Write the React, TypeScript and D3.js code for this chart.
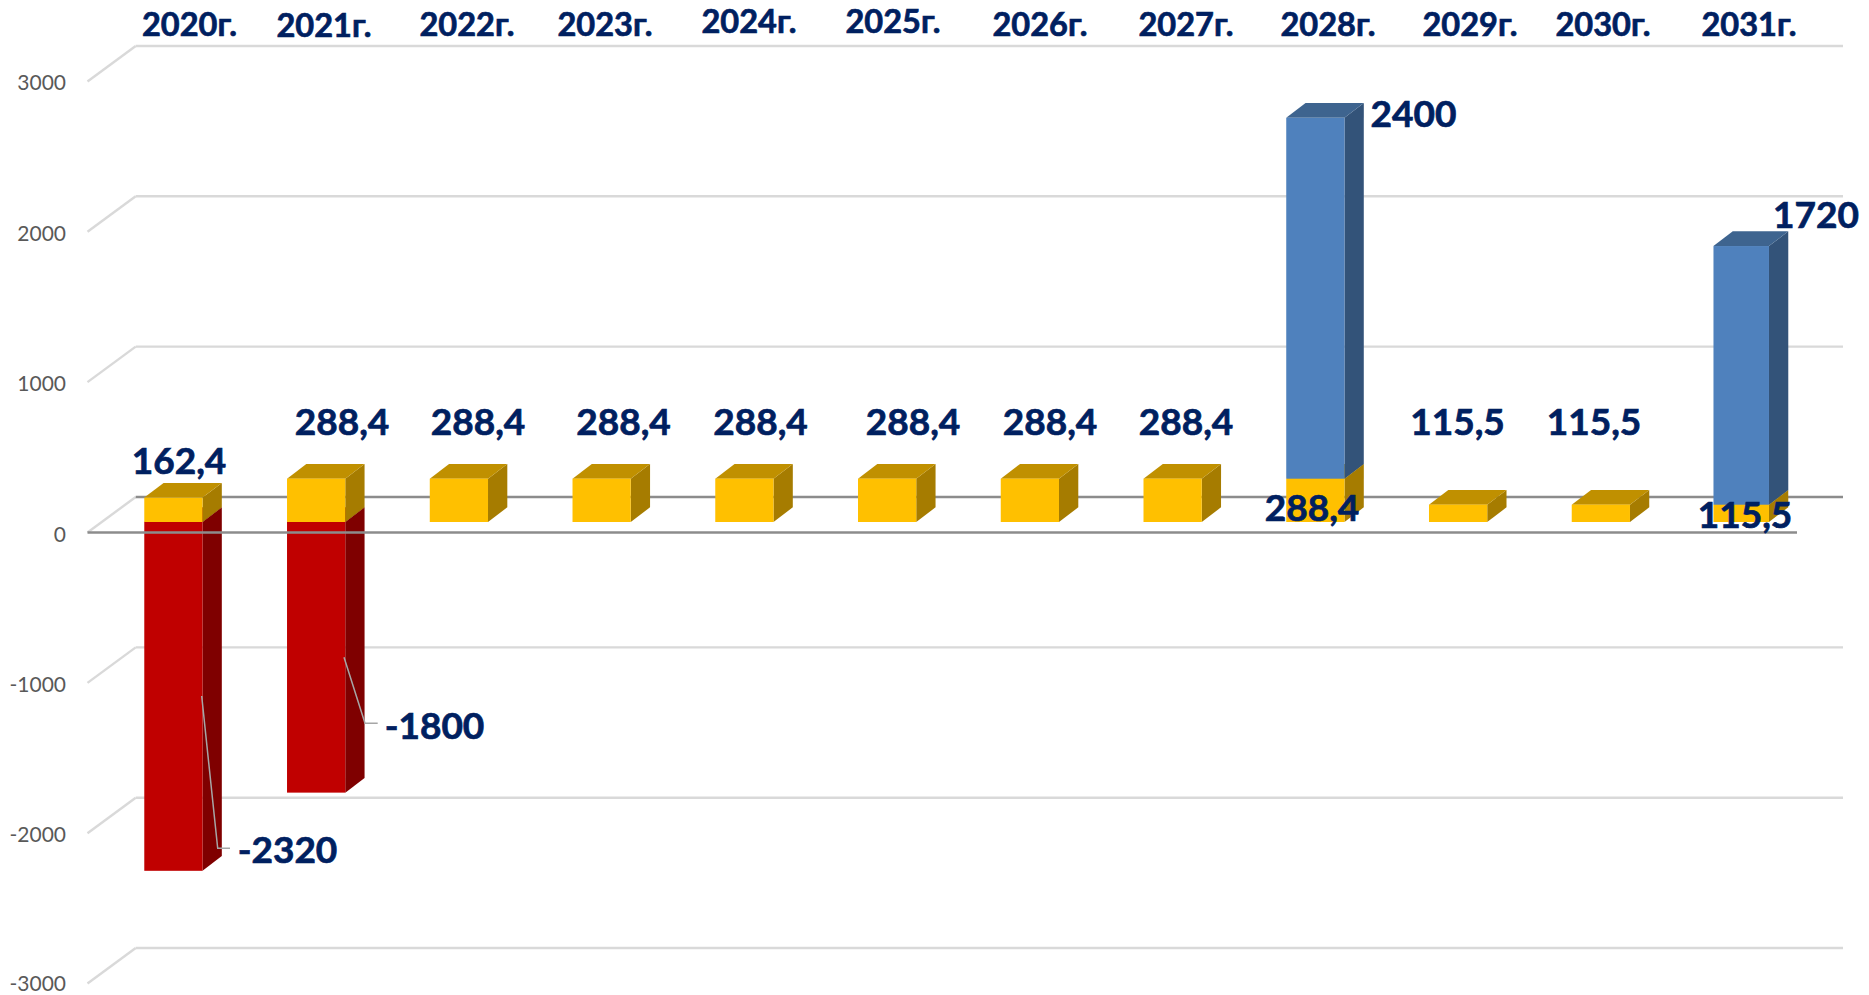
import React from "react";
import * as d3 from "d3";

const years = ["2020г.", "2021г.", "2022г.", "2023г.", "2024г.", "2025г.", "2026г.", "2027г.", "2028г.", "2029г.", "2030г.", "2031г."];
const yellowValues = [162.4, 288.4, 288.4, 288.4, 288.4, 288.4, 288.4, 288.4, 288.4, 115.5, 115.5, 115.5];
const redValues = [-2320, -1800, 0, 0, 0, 0, 0, 0, 0, 0, 0, 0];
const blueValues = [0, 0, 0, 0, 0, 0, 0, 0, 2400, 0, 0, 1720];
const yellowLabels = ["162,4", "288,4", "288,4", "288,4", "288,4", "288,4", "288,4", "288,4", "288,4", "115,5", "115,5", "115,5"];
const ticks = [3000, 2000, 1000, 0, -1000, -2000, -3000];

// label placement (text anchor middle), independent of the data
const yearLabelPos: [number, number][] = [[189.5, 36], [324, 37], [467, 36], [605, 36], [749, 33], [893, 33], [1040, 36], [1186, 36], [1328, 36], [1470, 36], [1603, 36], [1749, 36]];
const yellowLabelPos: [number, number][] = [[179, 474], [342, 435], [478, 435], [623.5, 435], [760.5, 435], [913, 435], [1050, 435], [1186, 435], [1312, 521], [1457.5, 435], [1594, 435], [1745, 527.5]];

const FONT = "Lato, 'Open Sans', sans-serif";
const NAVY = "#002060";
const DX = 19.3;
const DY = 14.7;
const STEP = 142.65;

const x = d3.scaleBand<string>().domain(years).range([102.6, 102.6 + 12 * STEP]).paddingInner(0.592).paddingOuter(0.292);
const unit = 150.35;
const yBar = d3.scaleLinear().domain([-1000, 1000]).range([522 + unit, 522 - unit]);
const yBack = d3.scaleLinear().domain([-1000, 1000]).range([497 + unit, 497 - unit]);
const yFront = d3.scaleLinear().domain([-1000, 1000]).range([532.5 + unit, 532.5 - unit]);

const line = d3.line();

function Box({ i, v0, v1, front, top, side }: { i: number; v0: number; v1: number; front: string; top: string; side: string }) {
  const xl = x(years[i])! - (i === 11 ? 1 : 0);
  const w = i === 11 ? 55.5 : x.bandwidth();
  const xr = xl + w;
  const yt = yBar(Math.max(v0, v1));
  const yb = yBar(Math.min(v0, v1));
  return (
    <g>
      <path d={line([[xr, yt], [xr + DX, yt - DY], [xr + DX, yb - DY], [xr, yb]])! + "Z"} fill={side} />
      <path d={line([[xl, yt], [xl + DX, yt - DY], [xr + DX, yt - DY], [xr, yt]])! + "Z"} fill={top} />
      <rect x={xl} y={yt} width={w} height={yb - yt} fill={front} />
    </g>
  );
}

export default function App() {
  return (
    <svg width={1869} height={995} style={{ position: "absolute", left: 0, top: 0, display: "block", background: "#fff" }} fontFamily={FONT}>
      {ticks.map((t) => (
        <g key={t} fill="none" stroke={t === 0 ? "#8c8c8c" : "#d9d9d9"} strokeWidth={2.4}>
          <path d={line([[87.5, yFront(t)], [135.7, yBack(t)]])!} stroke="#d9d9d9" />
          <path d={line([[135.7, yBack(t)], [1843, yBack(t)]])!} />
        </g>
      ))}
      {ticks.map((t) => (
        <text key={t} x={66} y={yFront(t) + (t === -3000 ? 7.5 : 9)} textAnchor="end" fontSize={21} fill="#595959">{t}</text>
      ))}

      {years.map((_, i) => (
        <g key={i}>
          {redValues[i] !== 0 && <Box i={i} v0={0} v1={redValues[i]} front="#C00000" top="#7F0000" side="#7F0000" />}
          <Box i={i} v0={0} v1={yellowValues[i]} front="#FFC000" top="#C09000" side="#A67C00" />
          {blueValues[i] !== 0 && <Box i={i} v0={yellowValues[i]} v1={yellowValues[i] + blueValues[i]} front="#4F81BD" top="#3E648F" side="#335379" />}
        </g>
      ))}

      <path d={line([[87.5, yFront(0)], [1797, yFront(0)]])!} fill="none" stroke="#8c8c8c" strokeWidth={2.4} />

      <g fill="none" stroke="#a6a6a6" strokeWidth={1.5}>
        <path d={line([[201.7, 696], [217.7, 848.3], [230, 848.3]])!} />
        <path d={line([[344, 657.3], [365, 723.3], [377.7, 723.3]])!} />
      </g>

      <g fill={NAVY} stroke={NAVY} strokeWidth={0.7} fontWeight={700} textAnchor="middle">
        {years.map((y, i) => (
          <text key={y} x={yearLabelPos[i][0]} y={yearLabelPos[i][1]} fontSize={32.5}>{y}</text>
        ))}
        {yellowLabels.map((l, i) => (
          <text key={i} x={yellowLabelPos[i][0]} y={yellowLabelPos[i][1]} fontSize={37}>{l}</text>
        ))}
        <text x={287.5} y={862.7} fontSize={37}>{redValues[0]}</text>
        <text x={434.5} y={739} fontSize={37}>{redValues[1]}</text>
        <text x={1413.5} y={126.7} fontSize={37}>{blueValues[8]}</text>
        <text x={1816} y={228} fontSize={37}>{blueValues[11]}</text>
      </g>
    </svg>
  );
}
